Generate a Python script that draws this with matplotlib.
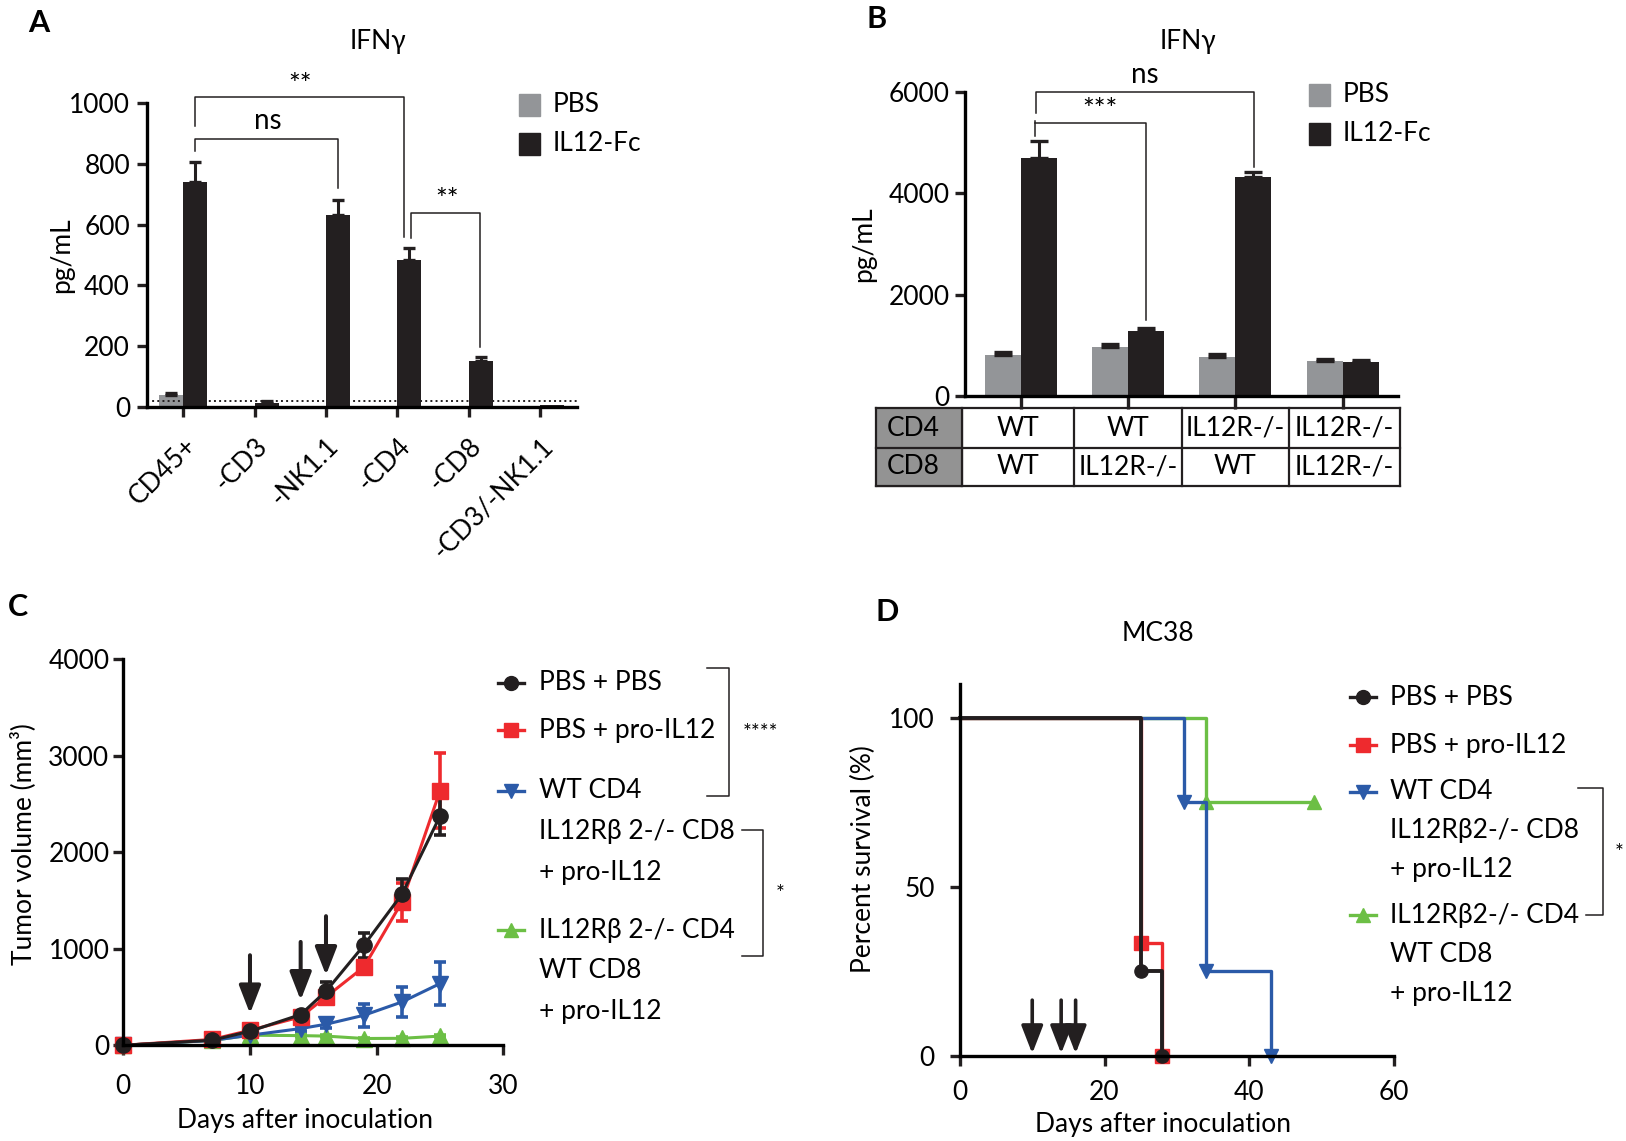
import numpy as np
import matplotlib
matplotlib.use('Agg')
import matplotlib.pyplot as plt
import matplotlib.transforms as mtransforms
from matplotlib.lines import Line2D
from matplotlib.patches import Rectangle

plt.rcParams['font.family'] = ['Lato', 'DejaVu Sans']
plt.rcParams['axes.linewidth'] = 2.4

# ---- data ----
# A: IFNg after depletion
a_groups = ['CD45+', '-CD3', '-NK1.1', '-CD4', '-CD8', '-CD3/-NK1.1']
a_pbs = [38, 0, 0, 0, 0, 0]
a_pbs_err = [6, 0, 0, 0, 0, 0]
a_il12 = [740, 13, 632, 484, 151, 5]
a_il12_err = [68, 5, 49, 38, 12, 0]
a_lod = 18

# B: IFNg with knockout T cells
b_pbs = [808, 972, 775, 683]
b_pbs_err = [59, 47, 59, 53]
b_il12 = [4698, 1288, 4310, 670]
b_il12_err = [328, 59, 99, 46]
b_cd4 = ['WT', 'WT', 'IL12R-/-', 'IL12R-/-']
b_cd8 = ['WT', 'IL12R-/-', 'WT', 'IL12R-/-']

# C: tumor growth
c_days = [0, 7, 10, 14, 16, 19, 22, 25]
c_pbs = [0, 52, 145, 318, 560, 1037, 1566, 2375]
c_pbs_err = [10, 15, 25, 40, 97, 131, 155, 200]
c_pro = [0, 60, 155, 294, 501, 812, 1486, 2637]
c_pro_err = [10, 15, 25, 40, 60, 55, 200, 388]
c_wt4 = [0, 50, 104, 173, 218, 311, 449, 639]
c_wt4_err = [10, 12, 20, 30, 40, 121, 156, 225]
c_ko4 = [0, 50, 104, 100, 95, 70, 72, 95]
c_ko4_err = [8, 8, 10, 12, 12, 10, 10, 12]
c_labels = [['PBS + PBS'], ['PBS + pro-IL12'],
            ['WT CD4', 'IL12Rβ 2-/- CD8', '+ pro-IL12'],
            ['IL12Rβ 2-/- CD4', 'WT CD8', '+ pro-IL12']]

# dosing days (arrows)
dose_days = [10, 14, 16]
c_arrow_top = [933, 1071, 1338]
c_arrow_tip = [328, 467, 726]

# D: survival
d_pbs_t, d_pbs_s = [0, 25, 28], [100, 25, 0]
d_pro_t, d_pro_s = [0, 25, 28], [100, 33.3, 0]
d_wt4_t, d_wt4_s = [0, 31, 34, 43], [100, 75, 25, 0]
d_ko4_t, d_ko4_s = [0, 34, 49], [100, 75, 75]
d_labels = [['PBS + PBS'], ['PBS + pro-IL12'],
            ['WT CD4', 'IL12Rβ2-/- CD8', '+ pro-IL12'],
            ['IL12Rβ2-/- CD4', 'WT CD8', '+ pro-IL12']]

BLACK = '#231f20'
GREY = '#939598'
RED = '#ee2a2e'
BLUE = '#2b5aa8'
GREEN = '#6cbf45'

fig = plt.figure(figsize=(16.26, 11.41), dpi=100)

# layout helpers: coordinates measured on the 1568x1100 reference
W, H = 1568.0, 1100.0


def box(left, top, right, bottom):
    return [left / W, 1 - bottom / H, (right - left) / W, (bottom - top) / H]


def ftext(x, y, s, **kw):
    fig.text(x / W, 1 - y / H, s, **kw)


def fline(xs, ys, **kw):
    fig.add_artist(Line2D([x / W for x in xs], [1 - y / H for y in ys],
                          transform=fig.transFigure, **kw))


def style(ax):
    ax.spines['top'].set_visible(False)
    ax.spines['right'].set_visible(False)
    ax.tick_params(width=2.4, length=7, labelsize=19, color=BLACK)


def bracket(ax, x1, x2, y, y1, y2, label, lx, ly, fs=20):
    ax.plot([x1, x1, x2, x2], [y1, y, y, y2], color=BLACK, lw=1.1, clip_on=False)
    ax.text(lx, ly, label, ha='center', va='center', fontsize=fs, clip_on=False)


def legend_entry(xm, xt, y, lines, dy, color, marker):
    fline([xm - 12.5, xm + 12.5], [y, y], color=color, lw=2.4)
    fig.add_artist(Line2D([xm / W], [1 - y / H], transform=fig.transFigure,
                          color=color, marker=marker, ms=10, ls='none'))
    for i, s in enumerate(lines):
        ftext(xt, y + i * dy, s, fontsize=19, va='center', ha='left')


def square(x, y, color):
    fig.add_artist(Rectangle(((x - 10) / W, 1 - (y + 10.5) / H), 20 / W, 21 / H,
                             transform=fig.transFigure, color=color))


# ---------------- A ----------------
axA = fig.add_axes(box(141.5, 99.6, 556, 392.2))
style(axA)
xa = np.arange(len(a_groups))
bw = 0.336
axA.bar(xa - bw / 2, a_pbs, bw, color=GREY)
axA.bar(xa + bw / 2, a_il12, bw, color=BLACK)
for xs, vals, errs in [(xa - bw / 2, a_pbs, a_pbs_err), (xa + bw / 2, a_il12, a_il12_err)]:
    for x, v, e in zip(xs, vals, errs):
        if e > 0:
            axA.errorbar(x, v, yerr=[[0], [e]], fmt='none', ecolor=BLACK,
                         elinewidth=2.2, capsize=4.5, capthick=2.4)
axA.axhline(a_lod, ls=':', color=BLACK, lw=1.4)
axA.set_xlim(-0.513, 5.51)
axA.set_ylim(0, 1000)
axA.set_yticks(range(0, 1001, 200))
axA.set_xticks(xa)
axA.set_xticklabels(a_groups, rotation=45, ha='right', va='top',
                    rotation_mode='anchor')
shift = mtransforms.ScaledTranslation(-0.1, 0, fig.dpi_scale_trans)
for lab in axA.get_xticklabels():
    lab.set_transform(lab.get_transform() + shift)
axA.tick_params(axis='x', pad=12, length=7)
axA.tick_params(axis='y', pad=5)
axA.set_ylabel('pg/mL', fontsize=19)
axA.yaxis.set_label_coords(-0.168, 0.5)
ftext(364, 40, 'IFNγ', fontsize=19, ha='center', va='center')
bracket(axA, 0.163, 2.164, 881, 844, 720, 'ns', 1.19, 943)
bracket(axA, 0.163, 3.09, 1020, 926, 560, '**', 1.63, 1058)
bracket(axA, 3.197, 4.155, 637, 555, 198, '**', 3.70, 677)
square(510.7, 101.2, GREY)
square(510.7, 138.7, BLACK)
ftext(533, 101.2, 'PBS', fontsize=19, va='center')
ftext(533, 138.7, 'IL12-Fc', fontsize=19, va='center')

# ---------------- B ----------------
axB = fig.add_axes(box(930.6, 88.4, 1348.4, 381.9))
style(axB)
xb = np.arange(len(b_pbs))
bw = 0.335
axB.bar(xb - bw / 2, b_pbs, bw, color=GREY)
axB.bar(xb + bw / 2, b_il12, bw, color=BLACK)
axB.errorbar(xb - bw / 2, b_pbs, yerr=[np.zeros(4), b_pbs_err], fmt='none',
             ecolor=BLACK, elinewidth=2.2, capsize=6.5, capthick=2.4)
axB.errorbar(xb + bw / 2, b_il12, yerr=[np.zeros(4), b_il12_err], fmt='none',
             ecolor=BLACK, elinewidth=2.2, capsize=6.5, capthick=2.4)
axB.set_xlim(-0.519, 3.518)
axB.set_ylim(0, 6000)
axB.set_yticks(range(0, 6001, 2000))
axB.set_xticks(xb)
axB.set_xticklabels([])
axB.tick_params(axis='x', length=9)
axB.tick_params(axis='y', pad=4)
axB.set_ylabel('pg/mL', fontsize=19)
axB.yaxis.set_label_coords(-0.205, 0.5)
ftext(1146, 40, 'IFNγ', fontsize=19, ha='center', va='center')
bracket(axB, 0.142, 2.17, 6000, 5572, 4520, 'ns', 1.155, 6327)
bracket(axB, 0.133, 1.17, 5374, 5374, 1498, '***', 0.737, 5624)
axB.plot([0.133, 0.133], [5420, 5125], color=BLACK, lw=1.1, clip_on=False)
square(1272.3, 91.3, GREY)
square(1272.3, 128.9, BLACK)
ftext(1294.8, 91.3, 'PBS', fontsize=19, va='center')
ftext(1294.8, 128.9, 'IL12-Fc', fontsize=19, va='center')

# table under B
tr = mtransforms.blended_transform_factory(axB.transData, axB.transAxes)
r_top, r_mid, r_bot = -0.0405, -0.169, -0.294
g_left = -1.352
edges = [-0.55, 0.5, 1.5, 2.5, 3.53]
axB.add_patch(Rectangle((g_left, r_bot), edges[0] - g_left, r_top - r_bot,
                        transform=tr, color='#939393', clip_on=False))
for yy in [r_top, r_mid, r_bot]:
    axB.plot([g_left, edges[-1]], [yy, yy], transform=tr, color=BLACK, lw=1.6,
             clip_on=False)
for xx in [g_left] + edges:
    axB.plot([xx, xx], [r_top, r_bot], transform=tr, color=BLACK, lw=1.6,
             clip_on=False)
for yy, s in [((r_top + r_mid) / 2, 'CD4'), ((r_mid + r_bot) / 2, 'CD8')]:
    axB.text((g_left + edges[0]) / 2 - 0.05, yy, s, transform=tr,
             ha='center', va='center', fontsize=19)
for i in range(4):
    cx = (edges[i] + edges[i + 1]) / 2
    axB.text(cx, (r_top + r_mid) / 2, b_cd4[i], transform=tr, ha='center',
             va='center', fontsize=19)
    axB.text(cx, (r_mid + r_bot) / 2, b_cd8[i], transform=tr, ha='center',
             va='center', fontsize=19)

# ---------------- C ----------------
axC = fig.add_axes(box(118.9, 635.6, 485.4, 1007.7))
style(axC)
c_series = [(c_ko4, c_ko4_err, GREEN, '^'), (c_wt4, c_wt4_err, BLUE, 'v'),
            (c_pro, c_pro_err, RED, 's'), (c_pbs, c_pbs_err, BLACK, 'o')]
for vals, err, col, mk in c_series:
    axC.errorbar(c_days, vals, yerr=err, color=col, marker=mk, ms=11, lw=2.2,
                 elinewidth=2.6, capsize=4.6, capthick=2.6, clip_on=False)
for d, y0, y1 in zip(dose_days, c_arrow_top, c_arrow_tip):
    axC.annotate('', xy=(d, y1), xytext=(d, y0),
                 arrowprops=dict(arrowstyle='-|>,head_length=0.85,head_width=0.33',
                                 lw=2.9, color=BLACK, mutation_scale=20,
                                 shrinkA=0, shrinkB=0))
axC.set_xlim(0, 30)
axC.set_ylim(0, 4000)
axC.set_xticks([0, 10, 20, 30])
axC.set_yticks(range(0, 4001, 1000))
axC.tick_params(axis='x', pad=14, length=7)
axC.tick_params(axis='y', pad=3)
axC.set_ylabel('Tumor volume (mm³)', fontsize=19)
axC.yaxis.set_label_coords(-0.229, 0.52)
axC.set_xlabel('Days after inoculation', fontsize=19)
axC.xaxis.set_label_coords(0.478, -0.162)

c_rows = [658, 704, 762.5, 896.8]
c_cols = [BLACK, RED, BLUE, GREEN]
c_marks = ['o', 's', 'v', '^']
for y, lines, col, mk in zip(c_rows, c_labels, c_cols, c_marks):
    legend_entry(492.5, 520, y, lines, 39.2, col, mk)
fline([682, 703, 703, 682], [644, 644, 767, 767], color=BLACK, lw=1.1)
ftext(733, 707, '****', fontsize=15, ha='center', va='center')
fline([716, 736, 736, 716], [800, 800, 922, 922], color=BLACK, lw=1.1)
ftext(752, 862, '*', fontsize=15, ha='center', va='center')

# ---------------- D ----------------
axD = fig.add_axes(box(925.7, 659.4, 1344, 1018))
style(axD)
d_series = [(d_ko4_t, d_ko4_s, GREEN, '^', 2.4), (d_wt4_t, d_wt4_s, BLUE, 'v', 2.4),
            (d_pro_t, d_pro_s, RED, 's', 2.4), (d_pbs_t, d_pbs_s, BLACK, 'o', 2.8)]
for t, s, col, mk, lw in d_series:
    axD.step(t, s, where='post', color=col, lw=lw, clip_on=False)
    axD.plot(t[1:], s[1:], ls='none', marker=mk, ms=9.5, color=col, clip_on=False)
for d in dose_days:
    axD.annotate('', xy=(d, 0.7), xytext=(d, 16.5),
                 arrowprops=dict(arrowstyle='-|>,head_length=0.85,head_width=0.33',
                                 lw=2.6, color=BLACK, mutation_scale=20,
                                 shrinkA=0, shrinkB=0))
axD.set_xlim(0, 60)
axD.set_ylim(0, 110)
axD.set_xticks([0, 20, 40, 60])
axD.set_yticks([0, 50, 100])
axD.tick_params(axis='x', pad=10, length=7)
axD.tick_params(axis='y', pad=11)
axD.set_ylabel('Percent survival (%)', fontsize=19)
axD.yaxis.set_label_coords(-0.193, 0.53)
axD.set_xlabel('Days after inoculation', fontsize=19)
axD.xaxis.set_label_coords(0.469, -0.15)
ftext(1117, 611, 'MC38', fontsize=19, ha='center', va='center')

d_rows = [672.4, 718.4, 763.4, 882.4]
for y, lines, col, mk in zip(d_rows, d_labels, c_cols, c_marks):
    legend_entry(1314.7, 1340.4, y, lines, 37.5, col, mk)
fline([1522, 1546, 1546, 1529], [760, 760, 882.4, 882.4], color=BLACK, lw=1.1)
ftext(1561, 822, '*', fontsize=15, ha='center', va='center')

# panel letters
for x, y, s in [(37, 22, 'A'), (845, 18, 'B'), (17, 585, 'C'), (855, 590, 'D')]:
    ftext(x, y, s, fontsize=22, fontweight='bold', ha='center', va='center')

fig.savefig('out.png', dpi=100)
